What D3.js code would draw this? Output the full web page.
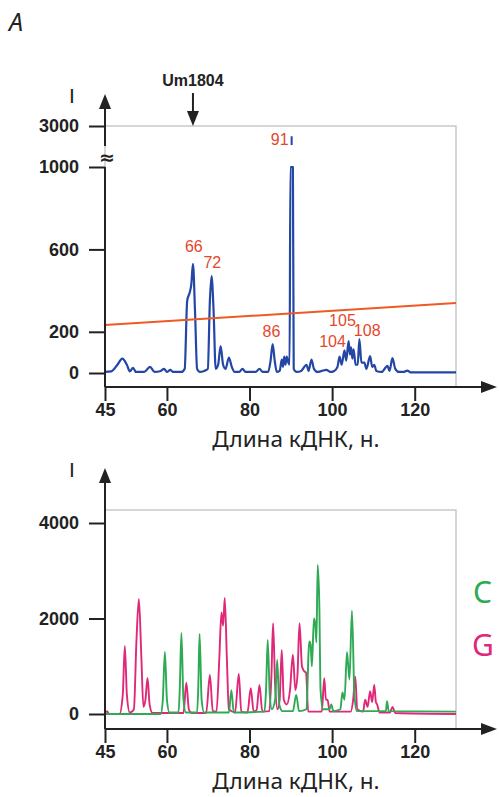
<!DOCTYPE html>
<html>
<head>
<meta charset="utf-8">
<script src="https://d3js.org/d3.v7.min.js"></script>
<style>
  body { margin: 0; background: #fff; }
  .tick text { font: bold 18px "Liberation Sans", Arial, sans-serif; fill: #222; }
  .tick line { stroke: #222; stroke-width: 2; }
  .title { font: 22.5px "Noto Sans", sans-serif; fill: #222; }
  .peak { font: 16px "Liberation Sans", Arial, sans-serif; fill: #e5472a; }
</style>
</head>
<body>
<svg id="chart" width="499" height="797"></svg>
<script>
// x ticks (cDNA length, nt)
var xTicks = [45, 60, 80, 100, 120];
var topTicks = [0, 200, 600, 1000, 3000];
var bottomTicks = [0, 2000, 4000];

// top panel, Um1804 trace [length, intensity]
var blueTrace = [[45,5],[46.5,8],[48,40],[49.2,70],[50.3,40],[51,8],[51.8,25],[52.5,5],[54.5,5],[55.9,30],[57,5],
  [58.5,10],[59.3,20],[60,5],[60.8,15],[61.5,5],[63.5,5],[64.3,20],[64.9,350],[65.5,390],[65.9,430],[66.3,530],
  [66.8,300],[67.3,20],[68,5],[69,10],[69.9,20],[70.4,350],[70.8,470],[71.3,300],[71.8,20],[72.4,40],[73,130],
  [73.6,40],[74.2,20],[75,75],[75.7,30],[76.4,5],[77.5,5],[78.3,20],[79,5],[81.5,5],[82.4,20],[83.2,5],[84.5,5],
  [85.1,60],[85.6,140],[86.1,60],[86.6,5],[87.3,10],[87.8,65],[88.1,30],[88.4,80],[88.7,40],[89,80],[89.4,50],
  [89.7,40],[89.9,1000],[90.5,1000],[90.7,20],[91.4,5],[92.5,10],[93.8,40],[94.3,10],[95,65],[95.6,20],[96.5,5],
  [97.5,10],[98.6,15],[99.6,5],[100.5,10],[101.3,30],[101.8,80],[102.3,40],[103,110],[103.4,60],[104,155],[104.3,90],
  [104.6,125],[104.9,70],[105.2,115],[105.7,40],[106.2,40],[106.6,165],[107.1,50],[107.8,50],[108.3,20],[109.2,82],
  [109.7,30],[110.2,40],[110.7,10],[112,5],[113.4,35],[113.9,10],[114.6,72],[115.3,20],[116.2,5],[117.3,5],
  [118.2,12],[119,3],[130,3]];
var threshold = [[45,233],[130,340]];
var peakNames = ["66", "72", "86", "91", "104", "105", "108"];
var peakX = [66.5, 71.0, 85.3, 87.3, 100.1, 102.5, 108.5];
var peakY = [585, 510, 175, 2070, 126, 228, 180];

// bottom panel, C and G traces
var traceG = [[45,0],[45.5,60],[46,0],[48.5,0],[49.3,400],[49.8,1425],[50.3,400],[51,30],[52,100],[52.6,1500],
  [53.2,2410],[53.8,1200],[54.3,150],[54.8,300],[55.3,755],[55.8,200],[56.5,20],[64,20],[64.7,657],[65.3,100],
  [66,20],[69.5,20],[70.4,818],[71.1,60],[72,50],[72.7,1200],[73.2,2125],[73.6,1850],[74.0,2430],[74.5,1200],
  [75,100],[76.5,30],[77.4,840],[78,50],[79.5,30],[80.3,540],[81,50],[81.7,80],[82.4,610],[83.1,50],[84.8,60],
  [85.3,800],[85.7,1900],[86.2,600],[86.8,100],[87.3,300],[87.8,1340],[88.3,300],[89,200],[89.8,500],[90.5,1240],
  [91.1,500],[91.6,800],[92.1,1900],[92.7,1000],[93.2,900],[93.7,860],[94.2,50],[97.5,50],[98.1,750],[98.5,300],
  [98.9,300],[99.4,50],[104.5,50],[105.1,300],[105.6,780],[106.1,100],[107.5,50],[108,300],[108.6,150],[109.2,480],
  [109.7,250],[110.2,610],[110.6,250],[110.9,200],[111.5,30],[114,30],[114.6,150],[115.3,20],[130,0]];
var traceC = [[45,0],[58.5,0],[59,300],[59.5,1300],[60,300],[60.6,30],[62.8,30],[63.1,500],[63.5,1700],[64,300],
  [64.6,30],[67.3,30],[67.6,600],[67.9,1675],[68.4,300],[69,30],[75,30],[75.6,500],[76.2,30],[83.6,50],[84.0,500],
  [84.4,1550],[84.9,400],[85.4,100],[86.2,300],[86.7,1130],[87.2,200],[88,60],[90.5,60],[91.3,400],[92,60],
  [93.8,100],[94.3,1300],[94.5,1520],[94.8,1450],[95.1,1000],[95.6,2000],[95.9,1900],[96.2,1500],[96.5,3120],
  [96.9,2300],[97.2,500],[97.8,100],[99.4,100],[99.8,200],[100.3,60],[102,100],[102.5,450],[103,300],[103.6,1300],
  [104.2,720],[104.8,2165],[105.4,400],[106,60],[113,60],[113.3,270],[113.7,60],[130,50]];

var svg = d3.select("#chart");
var x = d3.scaleLinear().domain([45, 130]).range([105, 456]);

var yTop = d3.scaleLinear().domain([0, 1000, 3000]).range([373, 167, 126]);
var yBot = d3.scaleLinear().domain([0, 4000]).range([714, 523]);

function arrowUp(cx, tip) {
  svg.append("path").attr("d", "M" + (cx - 6) + "," + (tip + 15) + "L" + cx + "," + tip + "L" + (cx + 6) + "," + (tip + 15) + "Z").attr("fill", "#222");
}
function arrowRight(cy, tip) {
  svg.append("path").attr("d", "M" + (tip - 16) + "," + (cy - 6) + "L" + tip + "," + cy + "L" + (tip - 16) + "," + (cy + 6) + "Z").attr("fill", "#222");
}

function panel(y, boxTop, axisY, traces, ticks, arrowTip) {
  svg.append("rect").attr("x", x(45)).attr("y", boxTop).attr("width", x(130) - x(45)).attr("height", axisY - boxTop)
    .attr("fill", "none").attr("stroke", "#bbb").attr("stroke-width", 1.2);

  traces.forEach(function(t) {
    var line = d3.line().x(function(d) { return x(d[0]); }).y(function(d) { return y(d[1]); }).curve(d3.curveMonotoneX);
    svg.append("path").datum(t.data).attr("d", line).attr("fill", "none")
      .attr("stroke", t.color).attr("stroke-width", t.width).attr("stroke-linejoin", "round");
  });

  var ya = svg.append("g").attr("transform", "translate(" + x(45) + ",0)")
    .call(d3.axisLeft(y).tickValues(ticks).tickSize(16).tickPadding(10).tickFormat(d3.format("d")));
  ya.select(".domain").remove();

  var xa = svg.append("g").attr("transform", "translate(0," + axisY + ")")
    .call(d3.axisBottom(x).tickValues(xTicks).tickSize(14).tickPadding(2));
  xa.select(".domain").remove();

  svg.append("line").attr("x1", x(45)).attr("x2", 485).attr("y1", axisY).attr("y2", axisY)
    .attr("stroke", "#222").attr("stroke-width", 2);
  arrowRight(axisY, 497);

  svg.append("text").attr("class", "title").attr("x", 296).attr("y", axisY + 60)
    .attr("text-anchor", "middle").text("Длина кДНК, н.");
  svg.append("text").attr("x", 72).attr("y", arrowTip + 9).attr("text-anchor", "middle")
    .style("font", "21px 'Liberation Sans', Arial, sans-serif").attr("fill", "#222").text("I");
}

// top panel
panel(yTop, 126, 387, [
  { data: blueTrace, color: "#2447a6", width: 2.2 }
], topTicks, 94);

svg.append("path").datum(threshold)
  .attr("d", d3.line().x(function(d) { return x(d[0]); }).y(function(d) { return yTop(d[1]); }))
  .attr("stroke", "#ee5a24").attr("stroke-width", 2).attr("fill", "none");

// broken y axis
svg.append("line").attr("x1", x(45)).attr("x2", x(45)).attr("y1", 387).attr("y2", yTop(1000))
  .attr("stroke", "#222").attr("stroke-width", 2);
svg.append("line").attr("x1", x(45)).attr("x2", x(45)).attr("y1", 146).attr("y2", 105)
  .attr("stroke", "#222").attr("stroke-width", 2);
arrowUp(x(45), 94);
svg.append("text").attr("x", x(45) + 2).attr("y", 164).attr("text-anchor", "middle")
  .style("font", "bold 19px 'DejaVu Sans', sans-serif").attr("fill", "#222").text("≈");

peakNames.forEach(function(n, i) {
  svg.append("text").attr("class", "peak").attr("x", x(peakX[i])).attr("y", yTop(peakY[i]))
    .attr("text-anchor", "middle").text(n);
});
svg.append("line").attr("x1", x(90.2)).attr("x2", x(90.2)).attr("y1", yTop(2500)).attr("y2", yTop(2070))
  .attr("stroke", "#2447a6").attr("stroke-width", 2);

// Um1804 marker
svg.append("text").attr("x", x(66.3)).attr("y", 86).attr("text-anchor", "middle")
  .style("font", "bold 16px 'Liberation Sans', Arial, sans-serif").attr("fill", "#222").text("Um1804");
svg.append("line").attr("x1", x(66.3)).attr("x2", x(66.3)).attr("y1", 93).attr("y2", 112)
  .attr("stroke", "#222").attr("stroke-width", 2);
svg.append("path").attr("d", "M" + (x(66.3) - 6) + ",111L" + x(66.3) + ",126L" + (x(66.3) + 6) + ",111Z").attr("fill", "#222");

svg.append("text").attr("x", 9).attr("y", 31)
  .style("font", "italic 25px 'Noto Sans', sans-serif").attr("fill", "#222").text("A");

// bottom panel
panel(yBot, 510, 729, [
  { data: traceG, color: "#e0287a", width: 1.9 },
  { data: traceC, color: "#2eaa55", width: 1.9 }
], bottomTicks, 468);
svg.append("line").attr("x1", x(45)).attr("x2", x(45)).attr("y1", 729).attr("y2", 480)
  .attr("stroke", "#222").attr("stroke-width", 2);
arrowUp(x(45), 468);

svg.append("text").attr("x", 473).attr("y", 603)
  .style("font", "30px 'Noto Sans', sans-serif").attr("fill", "#2eaa55").text("C");
svg.append("text").attr("x", 472).attr("y", 656)
  .style("font", "30px 'Noto Sans', sans-serif").attr("fill", "#e0287a").text("G");
</script>
</body>
</html>
